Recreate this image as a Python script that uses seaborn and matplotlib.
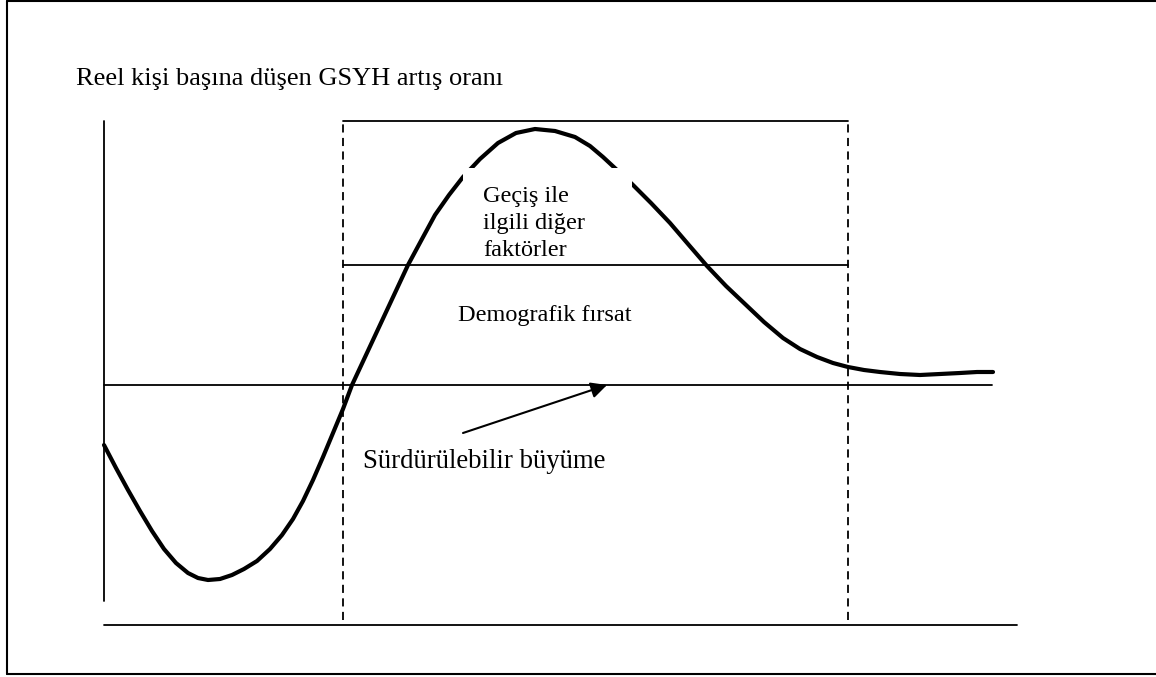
import matplotlib
matplotlib.use("Agg")
import pandas as pd
import matplotlib.pyplot as plt
import seaborn as sns
from matplotlib.lines import Line2D
from matplotlib.patches import Rectangle

# Curve (time on x, growth rate on y, sustainable growth = 0)
time = [0, 12, 24, 36, 48, 60, 72, 84, 94, 104, 116, 128, 140, 153, 166, 178,
        189, 199, 209, 219, 229, 239, 248, 262, 276, 290, 304, 318, 331, 345,
        359, 376, 394, 412, 431, 451, 471, 486, 499, 513, 528, 547, 566, 584,
        603, 622, 641, 660, 679, 696, 713, 729, 744, 760, 776, 796, 816, 836,
        856, 873, 889]
growth = [-60, -83, -105, -126, -146, -164, -178, -188, -193, -195, -194, -190,
          -184, -176, -164, -150, -134, -116, -95, -72, -48, -24, 0, 30, 60,
          90, 120, 146, 170, 190, 208, 226, 242, 252, 256, 254, 248, 239, 228,
          215, 201, 182, 162, 141, 119, 99, 81, 63, 47, 36, 28, 22, 18, 15, 13,
          11, 10, 11, 12, 13, 13]

sustainable_level = 0
sustainable_end = 888
window_start, window_end = 239, 744      # demographic window (dashed box)
window_top, other_factors_level = 264, 120
window_bottom = -235
axis_floor, axis_floor_end = -240, 913
y_axis_bottom, y_axis_top = -216, 264

title_text = "Reel kişi başına düşen GSYH artış oranı"
other_lines = ["Geçiş ile", "ilgili diğer", "faktörler"]
window_label = "Demografik fırsat"
sustain_label = "Sürdürülebilir büyüme"

df = pd.DataFrame({"time": time, "growth": growth})

sns.set_theme(style="white")
plt.rcParams["font.family"] = ["Liberation Serif", "DejaVu Serif"]
plt.rcParams["text.color"] = "black"

fig = plt.figure(figsize=(11.56, 6.77), dpi=100)
ax = fig.add_axes([0, 0, 1, 1])
ax.set_xlim(-104, 1052)
ax.set_ylim(-292, 385)
ax.axis("off")

# axes of the sketch
ax.plot([0, 0], [y_axis_bottom, y_axis_top], color="black", lw=1.3)
ax.plot([0, axis_floor_end], [axis_floor, axis_floor], color="black", lw=1.3)
ax.plot([0, sustainable_end], [sustainable_level, sustainable_level],
        color="black", lw=1.3)

# demographic window
for xv in (window_start, window_end):
    ax.plot([xv, xv], [window_bottom, window_top], color="black", lw=1.3,
            linestyle=(0, (4.5, 3)))
ax.plot([window_start, window_end], [window_top, window_top], color="black", lw=1.3)

# main curve
sns.lineplot(data=df, x="time", y="growth", sort=False, color="black",
             lw=3, ax=ax, zorder=3, solid_joinstyle="round")

# white mask behind the "other factors" label
ax.add_patch(Rectangle((359, 122), 169, 95, facecolor="white",
                       edgecolor="none", zorder=4))
ax.plot([window_start, window_end], [other_factors_level, other_factors_level],
        color="black", lw=1.3, zorder=5)

ax.text(-28, 300, title_text, fontsize=19, va="baseline", ha="left")
for i, line in enumerate(other_lines):
    ax.text(379, 183 - 27 * i, line, fontsize=17.5, va="baseline",
            ha="left", zorder=6)
ax.text(354, 64, window_label, fontsize=17.5, va="baseline", ha="left")
ax.text(259, -83, sustain_label, fontsize=19.3, va="baseline", ha="left")

ax.annotate("", xy=(503, 0), xytext=(359, -48),
            arrowprops=dict(arrowstyle="-|>", color="black", lw=1.5,
                            mutation_scale=24, shrinkA=0, shrinkB=0))

# outer frame (right edge is cut off in the original)
fig.add_artist(Line2D([0.006, 0.006], [0.004, 0.998], color="black", lw=1.5,
                      transform=fig.transFigure))
fig.add_artist(Line2D([0.006, 1.0], [0.998, 0.998], color="black", lw=1.5,
                      transform=fig.transFigure))
fig.add_artist(Line2D([0.006, 1.0], [0.004, 0.004], color="black", lw=1.5,
                      transform=fig.transFigure))

fig.savefig("out.png", dpi=100)
